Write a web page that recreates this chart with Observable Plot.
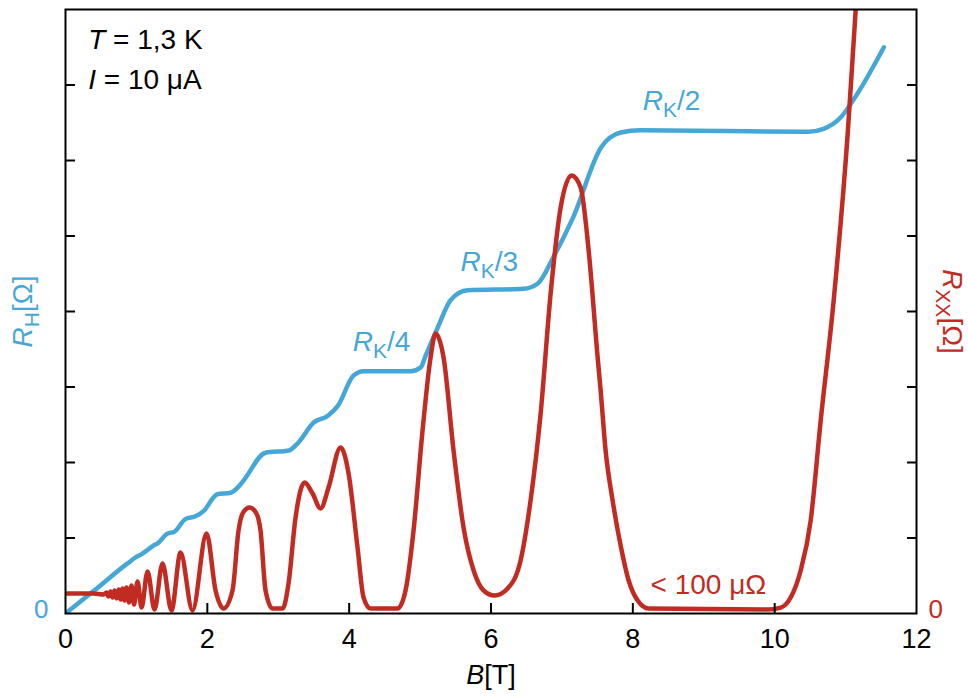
<!DOCTYPE html>
<html><head><meta charset="utf-8">
<script src="https://cdn.jsdelivr.net/npm/d3@7"></script>
<script src="https://cdn.jsdelivr.net/npm/@observablehq/plot@0.6"></script>
<style>body{margin:0;background:#fff;}</style>
</head><body><div id="chart"></div>
<script>
// Hall resistance R_H (frame units, one unit per tick) vs B [T]
const hallB = [0, 0.40, 0.87, 1.00, 1.08, 1.14, 1.24, 1.30, 1.44, 1.53, 1.69, 1.84, 1.95, 2.14, 2.33, 2.43, 2.51, 2.82, 3.15, 3.27, 3.50, 3.70, 3.84, 4.06, 4.20, 4.87, 5.01, 5.08, 5.25, 5.43, 5.67, 6.46, 6.66, 6.88, 7.16, 7.55, 7.83, 8.11, 9.30, 10.47, 10.69, 10.93, 11.17, 11.54];
const hallR = [0, 0.30, 0.66, 0.75, 0.79, 0.83, 0.90, 0.93, 1.06, 1.08, 1.25, 1.29, 1.36, 1.58, 1.60, 1.67, 1.76, 2.13, 2.16, 2.25, 2.53, 2.62, 2.75, 3.15, 3.21, 3.21, 3.26, 3.42, 3.79, 4.15, 4.28, 4.30, 4.37, 4.72, 5.25, 6.17, 6.37, 6.40, 6.39, 6.38, 6.42, 6.57, 6.89, 7.50];

// Longitudinal resistance R_XX (same frame units) vs B [T]
const rxxB = [0, 0.395, 0.536, 0.578, 0.606, 0.635, 0.663, 0.691, 0.719, 0.748,
  0.776, 0.804, 0.832, 0.860, 0.896, 0.931, 0.966, 1.016, 1.072, 1.157,
  1.255, 1.368, 1.495, 1.622, 1.791, 1.989, 2.116, 2.228, 2.355, 2.440,
  2.50, 2.595, 2.69, 2.750, 2.821, 2.920, 3.061, 3.145, 3.244, 3.371,
  3.484, 3.597, 3.709, 3.879, 3.992, 4.118, 4.203, 4.302, 4.683, 4.795,
  4.908, 5.035, 5.148, 5.219, 5.331, 5.472, 5.613, 5.755, 5.896, 6.051,
  6.234, 6.417, 6.558, 6.700, 6.841, 6.982, 7.137, 7.264, 7.377, 7.504,
  7.546, 7.616, 7.715, 7.828, 7.941, 8.068, 8.223, 9.901, 10.085, 10.226,
  10.367, 10.508, 10.649, 10.832, 11.030, 11.142, 11.18];
const rxxR = [0.265, 0.265, 0.252, 0.278, 0.225, 0.291, 0.212, 0.305, 0.199, 0.318,
  0.185, 0.331, 0.172, 0.344, 0.146, 0.371, 0.119, 0.424, 0.079, 0.556,
  0.053, 0.662, 0.040, 0.808, 0.040, 1.060, 0.305, 0.066, 0.305, 1.099,
  1.330, 1.404, 1.330, 1.099, 0.305, 0.066, 0.066, 0.397, 1.272, 1.735,
  1.589, 1.391, 1.669, 2.199, 1.854, 0.874, 0.212, 0.066, 0.066, 0.305,
  1.099, 2.424, 3.391, 3.709, 3.391, 2.159, 1.139, 0.570, 0.305, 0.238,
  0.331, 0.702, 1.497, 2.649, 4.238, 5.377, 5.801, 5.642, 4.808, 3.391,
  2.954, 2.159, 1.497, 0.901, 0.437, 0.172, 0.066, 0.053, 0.079, 0.212,
  0.570, 1.232, 2.556, 4.146, 6.358, 7.987, 8.5];

// Tick values
const xTickLabels = [0, 2, 4, 6, 8, 10, 12];
const xInnerTicks = [2, 4, 6, 8, 10];
const yInnerTicks = [1, 2, 3, 4, 5, 6, 7];
const zeroTick = [0];

// Annotation texts
const condT = "T = 1,3 K";
const condI = "I = 10 μA";
const plateauLabels = ["RK/2", "RK/3", "RK/4"];
const rxxNote = "< 100 μΩ";

const hall = hallB.map((b, i) => ({B: b, R: hallR[i]}));
const rxx = rxxB.map((b, i) => ({B: b, R: rxxR[i]}));

const BLUE = "#45a7d7", RED = "#c22b22";
const FONT = "'Liberation Sans', Arial, Helvetica, sans-serif";
const FS = 28;

const annots = [
  {B: 0.32, R: 7.59, text: condT, fill: "#000"},
  {B: 0.32, R: 7.07, text: condI, fill: "#000"},
  {B: 8.14, R: 6.79, text: plateauLabels[0], fill: BLUE},
  {B: 5.57, R: 4.65, text: plateauLabels[1], fill: BLUE},
  {B: 4.05, R: 3.59, text: plateauLabels[2], fill: BLUE},
  {B: 8.25, R: 0.38, text: rxxNote, fill: RED}
];

const chart = Plot.plot({
  width: 968, height: 700,
  marginLeft: 65, marginRight: 52, marginTop: 9, marginBottom: 87,
  x: {domain: [0, 12], label: null},
  y: {domain: [0, 8], label: null},
  style: {fontFamily: FONT, fontSize: FS + "px", background: "#fff", color: "#000"},
  marks: [
    Plot.line(hall, {x: "B", y: "R", stroke: BLUE, strokeWidth: 4.5, curve: "monotone-x", clip: true}),
    Plot.line(rxx, {x: "B", y: "R", stroke: RED, strokeWidth: 4.5, curve: "monotone-x", clip: true}),
    Plot.frame({stroke: "#000", strokeWidth: 2}),
    Plot.axisX(xInnerTicks, {tickSize: -10, tickFormat: () => "", strokeWidth: 2, label: null}),
    Plot.axisX(xTickLabels, {tickSize: 0, tickPadding: 15, fontSize: 27, tickFormat: d3.format("d"), label: null}),
    Plot.axisY(yInnerTicks, {anchor: "left", tickSize: -10, tickFormat: () => "", strokeWidth: 2, label: null}),
    Plot.axisY(yInnerTicks, {anchor: "right", tickSize: -10, tickFormat: () => "", strokeWidth: 2, label: null}),
    Plot.axisY(zeroTick, {anchor: "left", tickSize: 0, tickPadding: 17, color: BLUE, dy: -4, fontSize: 26, tickFormat: d3.format("d"), label: null}),
    Plot.axisY(zeroTick, {anchor: "right", tickSize: 0, tickPadding: 12, color: RED, dy: -4, fontSize: 26, tickFormat: d3.format("d"), label: null}),
    ...annots.map(a => Plot.text([a], {x: "B", y: "R", text: "text", fill: a.fill, textAnchor: "start", fontSize: FS})),
    Plot.text(["B[T]"], {frameAnchor: "bottom", textAnchor: "middle", dy: 70, fontSize: 27, fill: "#000"}),
    Plot.text(["RH[Ω]"], {frameAnchor: "left", textAnchor: "middle", dx: -42, rotate: -90, fontSize: 28, fill: BLUE}),
    Plot.text(["RXX[Ω]"], {frameAnchor: "right", textAnchor: "middle", dx: 35, rotate: 90, fontSize: 28, fill: RED})
  ]
});

// Rich text: italics and subscripts
const rich = {
  "T = 1,3 K": [["T", "i"], [" = 1,3 K"]],
  "I = 10 μA": [["I", "i"], [" = 10 μA"]],
  "RK/2": [["R", "i"], ["K", "sub"], ["/2"]],
  "RK/3": [["R", "i"], ["K", "sub"], ["/3"]],
  "RK/4": [["R", "i"], ["K", "sub"], ["/4"]],
  "B[T]": [["B", "i"], ["[T]"]],
  "RH[Ω]": [["R", "i"], ["H", "sub"], ["[Ω]"]],
  "RXX[Ω]": [["R", "i"], ["XX", "sub"], ["[Ω]"]]
};
d3.select(chart).selectAll("text").each(function () {
  const s = this.textContent;
  const parts = rich[s];
  if (!parts) return;
  const fs = 28;
  const sel = d3.select(this);
  sel.text(null);
  let shifted = false;
  parts.forEach(([t, kind]) => {
    const ts = sel.append("tspan").text(t);
    if (kind === "i") ts.attr("font-style", "italic");
    if (kind === "sub") {
      ts.attr("font-size", (fs * 0.75) + "px").attr("dy", (fs * 0.25) + "px");
      shifted = true;
    } else if (shifted) {
      ts.attr("dy", (-fs * 0.25) + "px");
      shifted = false;
    }
  });
});

document.getElementById("chart").appendChild(chart);
</script>
</body></html>
